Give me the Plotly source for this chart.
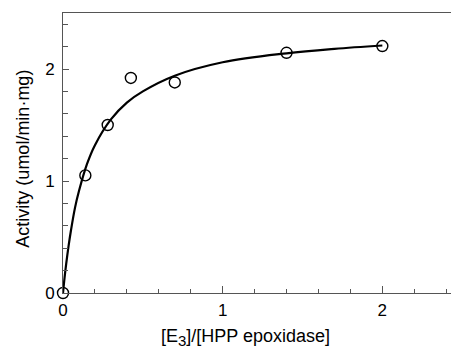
import plotly.graph_objects as go

# Measured points
ratio = [0.0, 0.14, 0.28, 0.425, 0.70, 1.40, 2.0]
activity = [0.0, 1.05, 1.50, 1.92, 1.88, 2.145, 2.205]

# Fitted curve
curve_x = [0.0, 0.01, 0.02, 0.035, 0.05, 0.075, 0.1, 0.15, 0.2, 0.3, 0.4, 0.5, 0.7, 1.0, 1.4, 1.7, 2.0]
curve_y = [0.0, 0.14, 0.26, 0.42, 0.56, 0.76, 0.91, 1.15, 1.32, 1.55, 1.70, 1.80, 1.94, 2.06, 2.14, 2.18, 2.21]

x_title = "[E<sub><span style='font-size:15px'>3</span></sub>]/[HPP epoxidase]"
y_title = "Activity (umol/min·mg)"

font = "Liberation Sans, Arial, sans-serif"

fig = go.Figure()
fig.add_trace(go.Scatter(x=curve_x, y=curve_y, mode="lines",
                         line=dict(color="black", width=2.2, shape="spline"),
                         showlegend=False, hoverinfo="skip"))
fig.add_trace(go.Scatter(x=ratio, y=activity, mode="markers",
                         marker=dict(symbol="circle-open", size=11, color="black",
                                     line=dict(width=1.4, color="black")),
                         cliponaxis=False, showlegend=False))

fig.add_annotation(text=x_title, xref="paper", yref="paper", x=0.47, y=-0.158,
                   xanchor="center", yanchor="middle", showarrow=False,
                   font=dict(family=font, size=18, color="black"))
fig.add_annotation(text=y_title, xref="paper", yref="paper", x=-0.103, y=0.48,
                   xanchor="center", yanchor="middle", showarrow=False, textangle=-90,
                   font=dict(family=font, size=18, color="black"))

fig.update_layout(
    width=451, height=354,
    margin=dict(l=63, r=0, t=13, b=61),
    paper_bgcolor="white", plot_bgcolor="white",
    font=dict(family=font, size=17, color="black"),
    xaxis=dict(range=[0, 2.43], dtick=1, tick0=0, ticks="inside", ticklen=7,
               tickwidth=1, tickcolor="#555", showgrid=False, zeroline=False,
               showline=True, linecolor="#555", linewidth=1, mirror=True,
               tickfont=dict(size=17), ticklabelstandoff=2,
               minor=dict(dtick=0.2, ticks="inside", ticklen=4, tickcolor="#555", showgrid=False)),
    yaxis=dict(range=[0, 2.5], dtick=1, tick0=0, ticks="inside", ticklen=6,
               tickwidth=1, tickcolor="#555", showgrid=False, zeroline=False,
               showline=True, linecolor="#555", linewidth=1,
               tickfont=dict(size=17), ticklabelstandoff=4,
               minor=dict(dtick=0.2, ticks="inside", ticklen=5, tickcolor="#555", showgrid=False)),
)

fig.write_html("out.html")
